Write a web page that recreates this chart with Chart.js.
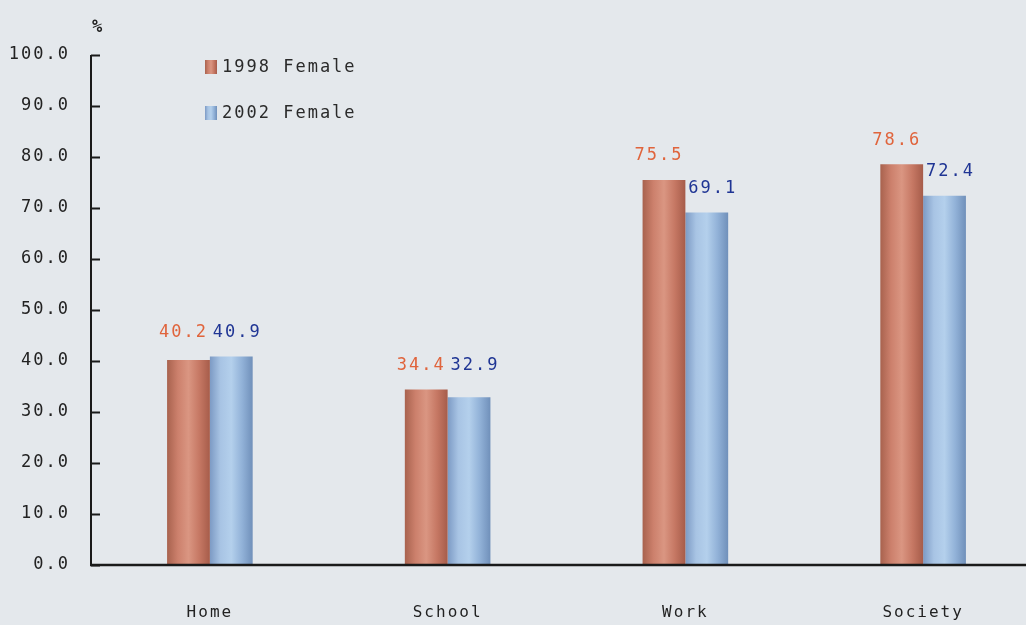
<!DOCTYPE html>
<html>
<head>
<meta charset="utf-8">
<script src="https://cdn.jsdelivr.net/npm/chart.js@4.4.1/dist/chart.umd.min.js"></script>
<style>
  html, body { margin: 0; padding: 0; overflow: hidden; background: #e4e8ec; }
  #wrap { position: relative; width: 1045px; height: 625px; }
</style>
</head>
<body>
<div id="wrap"><canvas id="c" width="1045" height="625"></canvas></div>
<script>
// Share of women who feel treated unequally, by setting
const categories = ['Home', 'School', 'Work', 'Society'];
const female1998 = [40.2, 34.4, 75.5, 78.6];
const female2002 = [40.9, 32.9, 69.1, 72.4];
const seriesLabels = ['1998 Female', '2002 Female'];
const yTicks = [0, 10, 20, 30, 40, 50, 60, 70, 80, 90, 100];

const FONT = '"DejaVu Sans Mono", "Liberation Mono", monospace';
const BG = '#e4e8ec';
const RED_STOPS = ['#a8624e', '#cc806c', '#da9682', '#c67864', '#a65c4a'];
const BLUE_STOPS = ['#7c9ac4', '#a8c4e4', '#b4d0ec', '#92b2d8', '#7090ba'];
const LABEL_COLORS = ['#e0643c', '#1f3594'];

function barGradient(ctx, x0, x1, stops) {
  const g = ctx.createLinearGradient(x0, 0, x1, 0);
  stops.forEach((c, i) => g.addColorStop(i / (stops.length - 1), c));
  return g;
}

const backgroundPlugin = {
  id: 'bg',
  beforeDraw(chart) {
    const ctx = chart.ctx;
    ctx.fillStyle = BG;
    ctx.fillRect(0, 0, chart.width, chart.height);
    // wide, typewriter-like spacing for every axis label
    ctx.letterSpacing = '2px';
  }
};

// Cylinder-like horizontal shading on every bar
const shadePlugin = {
  id: 'shade',
  beforeDatasetsDraw(chart) {
    chart.data.datasets.forEach((ds, di) => {
      const meta = chart.getDatasetMeta(di);
      meta.data.forEach(bar => {
        const half = bar.width / 2;
        bar.options = Object.assign({}, bar.options, {
          backgroundColor: barGradient(chart.ctx, bar.x - half, bar.x + half, ds.shadeStops)
        });
      });
    });
  }
};

// Inward tick marks, "%" unit, value labels and the legend box
const decorPlugin = {
  id: 'decor',
  afterDraw(chart) {
    const ctx = chart.ctx;
    const y = chart.scales.y;
    const area = chart.chartArea;
    ctx.save();
    // y axis line
    ctx.strokeStyle = '#1a1a1a';
    ctx.lineWidth = 2;
    ctx.beginPath();
    ctx.moveTo(area.left, y.getPixelForValue(100));
    ctx.lineTo(area.left, y.getPixelForValue(0));
    ctx.stroke();
    // ticks pointing into the plot
    y.ticks.forEach((t, i) => {
      const py = Math.round(y.getPixelForTick(i)) + 0.5;
      ctx.beginPath();
      ctx.moveTo(area.left, py);
      ctx.lineTo(area.left + 9, py);
      ctx.stroke();
    });
    // x axis line
    ctx.lineWidth = 2.5;
    ctx.beginPath();
    ctx.moveTo(area.left - 1, y.getPixelForValue(0));
    ctx.lineTo(chart.width, y.getPixelForValue(0));
    ctx.stroke();

    // unit
    ctx.fillStyle = '#222';
    ctx.font = 'bold 17px ' + FONT;
    ctx.letterSpacing = '0px';
    ctx.textAlign = 'center';
    ctx.textBaseline = 'middle';
    ctx.fillText('%', area.left + 6, 28);

    // value labels; a pair of nearly equal bars shares one label row
    ctx.font = '17px ' + FONT;
    ctx.letterSpacing = '2px';
    const metas = chart.data.datasets.map((ds, di) => chart.getDatasetMeta(di));
    chart.data.datasets.forEach((ds, di) => {
      const shift = di === 0 ? -5 : 6;
      ctx.fillStyle = LABEL_COLORS[di];
      metas[di].data.forEach((bar, i) => {
        const other = metas[1 - di].data[i];
        let top = bar.y;
        if (Math.abs(ds.data[i] - chart.data.datasets[1 - di].data[i]) < 3) {
          top = Math.min(bar.y, other.y);
        }
        ctx.fillText(ds.data[i].toFixed(1), bar.x + shift, top - 24);
      });
    });

    // legend
    ctx.textAlign = 'left';
    ctx.font = '17px ' + FONT;
    ctx.letterSpacing = '2px';
    chart.data.datasets.forEach((ds, di) => {
      const ly = 67 + di * 46;
      const lx = 205;
      ctx.fillStyle = barGradient(ctx, lx, lx + 12, ds.shadeStops);
      ctx.fillRect(lx, ly - 7, 12, 14);
      ctx.fillStyle = '#2a2a2a';
      ctx.fillText(ds.label, lx + 17, ly + 1);
    });
    ctx.restore();
  }
};

new Chart(document.getElementById('c'), {
  type: 'bar',
  data: {
    labels: categories,
    datasets: [
      { label: seriesLabels[0], data: female1998, backgroundColor: '#cf8470', shadeStops: RED_STOPS, borderWidth: 0 },
      { label: seriesLabels[1], data: female2002, backgroundColor: '#a8c4e4', shadeStops: BLUE_STOPS, borderWidth: 0 }
    ]
  },
  options: {
    responsive: false,
    animation: false,
    layout: { padding: { top: 55, right: 3, left: 0, bottom: 0 } },
    datasets: { bar: { barPercentage: 1.0, categoryPercentage: 0.36 } },
    plugins: { legend: { display: false }, tooltip: { enabled: false } },
    scales: {
      x: {
        grid: { display: false, drawTicks: false },
        border: { display: false },
        ticks: { color: '#222', font: { family: FONT, size: 16 }, padding: 38 },
        afterFit(s) { s.height = 60; }
      },
      y: {
        min: 0, max: 100,
        afterBuildTicks(s) { s.ticks = yTicks.map(v => ({ value: v })); },
        grid: { display: false, drawTicks: false },
        border: { display: false },
        ticks: {
          color: '#222', font: { family: FONT, size: 17 }, padding: 21,
          callback: v => v.toFixed(1)
        },
        afterFit(s) { s.width = 91; }
      }
    }
  },
  plugins: [backgroundPlugin, shadePlugin, decorPlugin]
});
</script>
</body>
</html>
